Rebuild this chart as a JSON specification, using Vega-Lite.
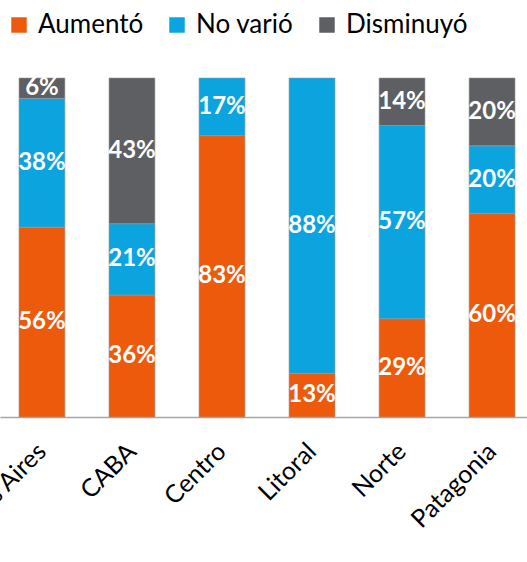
{
  "$schema": "https://vega.github.io/schema/vega-lite/v6.json",
  "width": 534,
  "height": 339,
  "autosize": {"type": "none"},
  "padding": {"left": 0, "top": 78, "right": 0, "bottom": 145},
  "background": "white",
  "view": {"stroke": null},
  "data": {
    "values": [
      {"region": "Buenos Aires", "serie": "Aumentó", "orden": 1, "valor": 0.56},
      {"region": "Buenos Aires", "serie": "No varió", "orden": 2, "valor": 0.38},
      {"region": "Buenos Aires", "serie": "Disminuyó", "orden": 3, "valor": 0.06},
      {"region": "CABA", "serie": "Aumentó", "orden": 1, "valor": 0.36},
      {"region": "CABA", "serie": "No varió", "orden": 2, "valor": 0.21},
      {"region": "CABA", "serie": "Disminuyó", "orden": 3, "valor": 0.43},
      {"region": "Centro", "serie": "Aumentó", "orden": 1, "valor": 0.83},
      {"region": "Centro", "serie": "No varió", "orden": 2, "valor": 0.17},
      {"region": "Litoral", "serie": "Aumentó", "orden": 1, "valor": 0.13},
      {"region": "Litoral", "serie": "No varió", "orden": 2, "valor": 0.88},
      {"region": "Norte", "serie": "Aumentó", "orden": 1, "valor": 0.29},
      {"region": "Norte", "serie": "No varió", "orden": 2, "valor": 0.57},
      {"region": "Norte", "serie": "Disminuyó", "orden": 3, "valor": 0.14},
      {"region": "Patagonia", "serie": "Aumentó", "orden": 1, "valor": 0.60},
      {"region": "Patagonia", "serie": "No varió", "orden": 2, "valor": 0.20},
      {"region": "Patagonia", "serie": "Disminuyó", "orden": 3, "valor": 0.20}
    ]
  },
  "transform": [
    {"stack": "valor", "groupby": ["region"], "sort": [{"field": "orden", "order": "ascending"}], "offset": "normalize", "as": ["y0", "y1"]},
    {"calculate": "(datum.y0 + datum.y1) / 2", "as": "ymid"}
  ],
  "encoding": {
    "x": {
      "field": "region",
      "type": "nominal",
      "sort": null,
      "scale": {"paddingInner": 0.49, "paddingOuter": 0.211},
      "axis": {
        "title": null,
        "labelAngle": -45,
        "labelAlign": "right",
        "labelBaseline": "middle",
        "labelFont": "Lato",
        "labelFontSize": 25,
        "labelColor": "#000000",
        "labelPadding": 30,
        "labelOverlap": false,
        "ticks": false,
        "domainColor": "#A6A6A6",
        "domainWidth": 1.5
      }
    }
  },
  "layer": [
    {
      "mark": {"type": "bar", "stroke": "#9a9a9a", "strokeWidth": 1, "strokeOpacity": 0.6},
      "encoding": {
        "y": {"field": "y0", "type": "quantitative", "scale": {"domain": [0, 1]}, "axis": null},
        "y2": {"field": "y1"},
        "color": {
          "field": "serie",
          "type": "nominal",
          "scale": {"domain": ["Aumentó", "No varió", "Disminuyó"], "range": ["#EE5A0C", "#0BA4DF", "#5E5F63"]},
          "legend": {
            "title": null,
            "orient": "none",
            "legendX": 6,
            "legendY": -66,
            "direction": "horizontal",
            "symbolType": "square",
            "symbolSize": 240,
            "symbolStrokeWidth": 0,
            "labelFont": "Lato",
            "labelFontSize": 26,
            "labelColor": "#000000",
            "labelOffset": 6,
            "columnPadding": 20
          }
        }
      }
    },
    {
      "mark": {"type": "text", "color": "white", "font": "Lato", "fontWeight": "bold", "fontSize": 24},
      "encoding": {
        "y": {"field": "ymid", "type": "quantitative", "scale": {"domain": [0, 1]}},
        "text": {"field": "valor", "type": "quantitative", "format": ".0%"}
      }
    }
  ]
}
